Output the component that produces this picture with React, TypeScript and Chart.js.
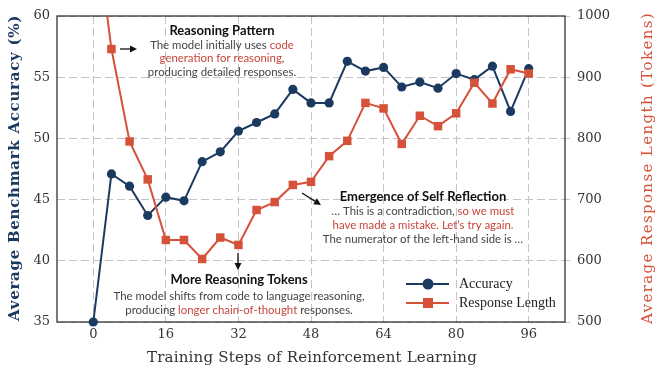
import React, { useEffect, useRef } from "react";
import { Chart, registerables } from "chart.js";
Chart.register(...registerables);

const steps = [0, 4, 8, 12, 16, 20, 24, 28, 32, 36, 40, 44, 48, 52, 56, 60, 64, 68, 72, 76, 80, 84, 88, 92, 96];
const accuracy = [35.0, 47.1, 46.1, 43.7, 45.2, 44.9, 48.1, 48.9, 50.6, 51.3, 52.0, 54.0, 52.9, 52.9, 56.3, 55.5, 55.8, 54.2, 54.6, 54.1, 55.3, 54.8, 55.9, 52.2, 55.7];
const responseLength = [1180, 946, 795, 733, 634, 634, 603, 638, 626, 683, 696, 724, 729, 771, 796, 858, 849, 791, 837, 820, 841, 891, 857, 913, 906];
const xTicks = [0, 16, 32, 48, 64, 80, 96];
const accTicks = [35, 40, 45, 50, 55, 60];
const lenTicks = [500, 600, 700, 800, 900, 1000];

const xTitle = "Training Steps of Reinforcement Learning";
const leftTitle = "Average Benchmark Accuracy (%)";
const rightTitle = "Average Response Length (Tokens)";
const legendLabels = ["Accuracy", "Response Length"];

const NAVY = "#1b3a5f";
const RED = "#d65139";
const TXTRED = "#c8453c";
const BODY = "#444";
const GRID = "#c4c4c4";

type Seg = [string, boolean];
const note1Title = "Reasoning Pattern";
const note1Lines: Seg[][] = [
  [["The model initially uses ", false], ["code", true]],
  [["generation for reasoning", true], [",", false]],
  [["producing detailed responses.", false]],
];
const note2Title = "More Reasoning Tokens";
const note2Lines: Seg[][] = [
  [["The model shifts from code to language reasoning,", false]],
  [["producing ", false], ["longer chain-of-thought", true], [" responses.", false]],
];
const note3Title = "Emergence of Self Reflection";
const note3Lines: Seg[][] = [
  [["… This is a contradiction, ", false], ["so we must", true]],
  [["have made a mistake. Let’s try again.", true]],
  [["The numerator of the left-hand side is …", false]],
];

function drawFitted(ctx: CanvasRenderingContext2D, text: string, cx: number, cy: number, width: number, rot: number) {
  ctx.save();
  ctx.translate(cx, cy);
  ctx.rotate(rot);
  (ctx as any).letterSpacing = "0px";
  const w = ctx.measureText(text).width;
  const ls = (width - w) / text.length;
  (ctx as any).letterSpacing = ls + "px";
  ctx.textAlign = "left";
  ctx.textBaseline = "middle";
  ctx.fillText(text, -width / 2, 0);
  ctx.restore();
}

function drawNote(ctx: CanvasRenderingContext2D, cx: number, title: string, ty: number, lines: Seg[][], ly: number[]) {
  ctx.save();
  ctx.textBaseline = "middle";
  ctx.textAlign = "center";
  ctx.font = "bold 13px Lato";
  ctx.fillStyle = "#111";
  ctx.fillText(title, cx, ty);
  ctx.font = "11.4px Lato";
  ctx.textAlign = "left";
  lines.forEach((segs, i) => {
    const total = segs.reduce((s, [t]) => s + ctx.measureText(t).width, 0);
    let x = cx - total / 2;
    segs.forEach(([t, red]) => {
      ctx.fillStyle = red ? TXTRED : BODY;
      ctx.fillText(t, x, ly[i]);
      x += ctx.measureText(t).width;
    });
  });
  ctx.restore();
}

function arrow(ctx: CanvasRenderingContext2D, x1: number, y1: number, x2: number, y2: number) {
  const ang = Math.atan2(y2 - y1, x2 - x1);
  ctx.save();
  ctx.strokeStyle = "#111";
  ctx.fillStyle = "#111";
  ctx.lineWidth = 1.3;
  ctx.setLineDash([]);
  ctx.beginPath();
  ctx.moveTo(x1, y1);
  ctx.lineTo(x2 - 4 * Math.cos(ang), y2 - 4 * Math.sin(ang));
  ctx.stroke();
  ctx.beginPath();
  ctx.moveTo(x2, y2);
  ctx.lineTo(x2 - 7 * Math.cos(ang) + 3.5 * Math.sin(ang), y2 - 7 * Math.sin(ang) - 3.5 * Math.cos(ang));
  ctx.lineTo(x2 - 7 * Math.cos(ang) - 3.5 * Math.sin(ang), y2 - 7 * Math.sin(ang) + 3.5 * Math.cos(ang));
  ctx.closePath();
  ctx.fill();
  ctx.restore();
}

const overlay = {
  id: "overlay",
  beforeDatasetsDraw(chart: any) {
    const ctx = chart.ctx;
    const a = chart.chartArea;
    ctx.save();
    ctx.strokeStyle = "#333";
    ctx.lineWidth = 1.3;
    ctx.setLineDash([]);
    ctx.strokeRect(a.left, a.top, a.right - a.left, a.bottom - a.top);
    ctx.restore();
  },
  afterDraw(chart: any) {
    const ctx: CanvasRenderingContext2D = chart.ctx;
    ctx.save();
    ctx.font = "bold 15px 'DejaVu Serif'";
    ctx.fillStyle = NAVY;
    drawFitted(ctx, leftTitle, 15, 168, 306, -Math.PI / 2);
    ctx.font = "15px 'DejaVu Serif'";
    ctx.fillStyle = RED;
    drawFitted(ctx, rightTitle, 648, 168, 312, -Math.PI / 2);
    ctx.font = "15px 'DejaVu Serif'";
    ctx.fillStyle = "#333";
    drawFitted(ctx, xTitle, 312, 358, 330, 0);
    ctx.restore();

    drawNote(ctx, 222, note1Title, 31, note1Lines, [45, 58.5, 72]);
    drawNote(ctx, 239, note2Title, 280, note2Lines, [296, 310]);
    drawNote(ctx, 423, note3Title, 197, note3Lines, [211.5, 225.5, 239.5]);

    arrow(ctx, 120, 49, 137, 49);
    arrow(ctx, 238, 253, 238, 270);
    arrow(ctx, 302, 193, 321, 205);

    // legend
    ctx.save();
    const items = [
      { y: 284, color: NAVY, style: "circle", label: legendLabels[0] },
      { y: 303, color: RED, style: "rect", label: legendLabels[1] },
    ];
    items.forEach((it) => {
      ctx.strokeStyle = it.color;
      ctx.fillStyle = it.color;
      ctx.lineWidth = 2;
      ctx.beginPath();
      ctx.moveTo(406, it.y);
      ctx.lineTo(449, it.y);
      ctx.stroke();
      ctx.beginPath();
      if (it.style === "circle") {
        ctx.arc(428, it.y, 5.5, 0, Math.PI * 2);
      } else {
        ctx.rect(423, it.y - 5, 10, 10);
      }
      ctx.fill();
      ctx.fillStyle = "#222";
      ctx.font = "14px 'Liberation Serif'";
      ctx.textBaseline = "middle";
      ctx.textAlign = "left";
      ctx.fillText(it.label, 459, it.y);
    });
    ctx.restore();
  },
};

export default function App() {
  const ref = useRef<HTMLCanvasElement>(null);
  useEffect(() => {
    const tickFont = { family: "'DejaVu Serif'", size: 13 };
    const chart = new Chart(ref.current!, {
      type: "line",
      data: {
        datasets: [
          {
            label: legendLabels[1],
            data: steps.map((s, i) => ({ x: s, y: responseLength[i] })),
            yAxisID: "y1",
            borderColor: RED,
            backgroundColor: RED,
            borderWidth: 2,
            pointStyle: "rect",
            pointRadius: 6,
            pointBorderWidth: 0,
            order: 0,
          },
          {
            label: legendLabels[0],
            data: steps.map((s, i) => ({ x: s, y: accuracy[i] })),
            yAxisID: "y",
            borderColor: NAVY,
            backgroundColor: NAVY,
            borderWidth: 2,
            pointStyle: "circle",
            pointRadius: 4.6,
            pointBorderWidth: 0,
            clip: { left: 8, right: 8, top: 8, bottom: 8 },
            order: 1,
          },
        ],
      },
      options: {
        responsive: false,
        animation: false,
        layout: { padding: { top: 16, left: 0, right: 0, bottom: 0 } },
        plugins: { legend: { display: false }, tooltip: { enabled: false } },
        scales: {
          x: {
            type: "linear",
            min: -8,
            max: 104,
            afterBuildTicks: (s: any) => { s.ticks = xTicks.map((v) => ({ value: v })); },
            afterFit: (s: any) => { s.height = 50; },
            ticks: { font: tickFont, color: "#333", padding: 5 },
            grid: { color: GRID, lineWidth: 1, drawTicks: false },
            border: { display: false, dash: [8, 4] },
          },
          y: {
            position: "left",
            min: 35,
            max: 60,
            afterBuildTicks: (s: any) => { s.ticks = accTicks.map((v) => ({ value: v })); },
            afterFit: (s: any) => { s.width = 57; },
            ticks: { font: tickFont, color: "#333", padding: 7 },
            grid: { color: GRID, lineWidth: 1, drawTicks: false },
            border: { display: false, dash: [8, 4] },
          },
          y1: {
            position: "right",
            min: 500,
            max: 1000,
            afterBuildTicks: (s: any) => { s.ticks = lenTicks.map((v) => ({ value: v })); },
            afterFit: (s: any) => { s.width = 95; },
            ticks: { font: tickFont, color: "#333", padding: 7, callback: (v: any) => String(v) },
            grid: { color: GRID, lineWidth: 1, drawOnChartArea: false, drawTicks: true, tickLength: 5, tickBorderDash: [8, 4] },
            border: { display: false, dash: [8, 4] },
          },
        },
      } as any,
      plugins: [overlay as any],
    });
    return () => chart.destroy();
  }, []);
  return (
    <canvas
      ref={ref}
      width={660}
      height={372}
      style={{ position: "absolute", left: 0, top: 0, width: 660, height: 372, background: "#fff" }}
    />
  );
}
